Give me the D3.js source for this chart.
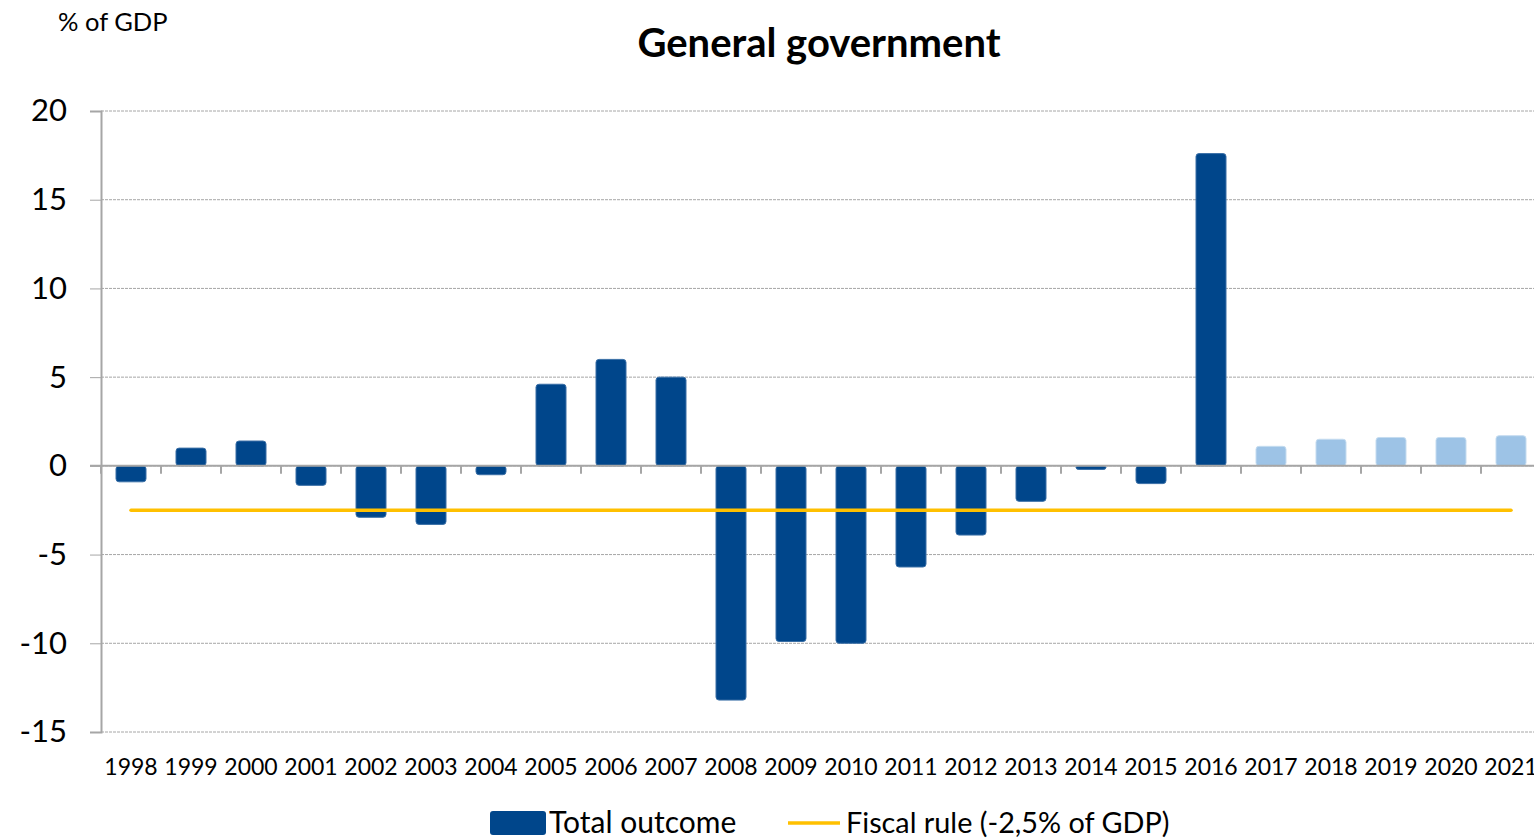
<!DOCTYPE html>
<html>
<head>
<meta charset="utf-8">
<script src="https://cdn.jsdelivr.net/npm/d3@7"></script>
<style>
  body { margin: 0; background: #fff; }
  svg { display: block; font-family: Lato, "Open Sans", sans-serif; }
</style>
</head>
<body>
<div id="chart"></div>
<script>
const years = d3.range(1998, 2022).map(String);
const totalOutcome = [-0.9, 1.0, 1.4, -1.1, -2.9, -3.3, -0.5, 4.6, 6.0, 5.0,
  -13.2, -9.9, -10.0, -5.7, -3.9, -2.0, -0.2, -1.0, 17.6,
  1.1, 1.5, 1.6, 1.6, 1.7];
const forecastFrom = "2017";
const fiscalRule = -2.5;
const yTicks = [-15, -10, -5, 0, 5, 10, 15, 20];

const width = 1534, height = 838;
const plotLeft = 101, plotTop = 111, plotBottom = 732;

const svg = d3.select("#chart").append("svg")
    .attr("width", width)
    .attr("height", height);

const x = d3.scaleBand()
    .domain(years)
    .range([plotLeft, plotLeft + years.length * 60])
    .paddingInner(0.5)
    .paddingOuter(0.25);

const y = d3.scaleLinear()
    .domain([-15, 20])
    .range([plotBottom, plotTop]);

// Gridlines
svg.append("g")
    .selectAll("line")
    .data(yTicks)
    .join("line")
    .attr("x1", plotLeft)
    .attr("x2", width)
    .attr("y1", d => y(d))
    .attr("y2", d => y(d))
    .attr("stroke", "#a6a6a6")
    .attr("stroke-width", 1)
    .attr("stroke-dasharray", "3,1");

// Y axis (plain hyphen for negatives, like the original)
const yAxis = svg.append("g")
    .attr("transform", `translate(${plotLeft},0)`)
    .call(d3.axisLeft(y).tickValues(yTicks).tickSize(11).tickPadding(23).tickFormat(d => String(d)));
yAxis.select(".domain").attr("stroke", "#a6a6a6").attr("stroke-width", 2);
yAxis.selectAll(".tick line").attr("stroke", "#a6a6a6");
yAxis.selectAll(".tick text")
    .style("font-family", "Lato, sans-serif")
    .style("font-size", "31px")
    .attr("fill", "#000");

// Bars
svg.append("g")
    .selectAll("rect")
    .data(years.map((yr, i) => ({ year: yr, value: totalOutcome[i] })))
    .join("rect")
    .attr("x", d => x(d.year))
    .attr("y", d => y(Math.max(0, d.value)))
    .attr("width", x.bandwidth())
    .attr("height", d => Math.abs(y(d.value) - y(0)))
    .attr("rx", 3)
    .attr("fill", d => d.year >= forecastFrom ? "#9dc3e6" : "#00468b")
    .attr("stroke", d => d.year >= forecastFrom ? "#c5dcf0" : "#3a6fa6")
    .attr("stroke-width", 1);

// Zero axis with category ticks
svg.append("line")
    .attr("x1", plotLeft - 11)
    .attr("x2", width)
    .attr("y1", y(0))
    .attr("y2", y(0))
    .attr("stroke", "#a6a6a6")
    .attr("stroke-width", 2);
svg.append("g")
    .selectAll("line")
    .data(years)
    .join("line")
    .attr("x1", d => x(d) - x.bandwidth() / 2)
    .attr("x2", d => x(d) - x.bandwidth() / 2)
    .attr("y1", y(0))
    .attr("y2", y(0) + 8)
    .attr("stroke", "#a6a6a6")
    .attr("stroke-width", 2);

// Fiscal rule line
svg.append("line")
    .attr("x1", x(years[0]) + x.bandwidth() / 2)
    .attr("x2", x(years[years.length - 1]) + x.bandwidth() / 2)
    .attr("y1", y(fiscalRule))
    .attr("y2", y(fiscalRule))
    .attr("stroke", "#ffc000")
    .attr("stroke-width", 3.5)
    .attr("stroke-linecap", "round");

// X labels
svg.append("g")
    .selectAll("text")
    .data(years)
    .join("text")
    .attr("x", d => x(d) + x.bandwidth() / 2)
    .attr("y", 775)
    .attr("text-anchor", "middle")
    .style("font-size", "23px")
    .text(d => d);

// Title and unit
svg.append("text")
    .attr("x", 819)
    .attr("y", 57)
    .attr("text-anchor", "middle")
    .style("font-size", "40px")
    .style("font-weight", "bold")
    .text("General government");

svg.append("text")
    .attr("x", 58)
    .attr("y", 31)
    .style("font-size", "25.5px")
    .text("% of GDP");

// Legend
const legend = svg.append("g");
legend.append("rect")
    .attr("x", 490).attr("y", 811)
    .attr("width", 56).attr("height", 24)
    .attr("rx", 3)
    .attr("fill", "#00468b");
legend.append("text")
    .attr("x", 549).attr("y", 833)
    .style("font-size", "30px")
    .text("Total outcome");
legend.append("line")
    .attr("x1", 788).attr("x2", 840)
    .attr("y1", 823).attr("y2", 823)
    .attr("stroke", "#ffc000")
    .attr("stroke-width", 3.5);
legend.append("text")
    .attr("x", 846).attr("y", 833)
    .style("font-size", "28.8px")
    .text("Fiscal rule (-2,5% of GDP)");
</script>
</body>
</html>
